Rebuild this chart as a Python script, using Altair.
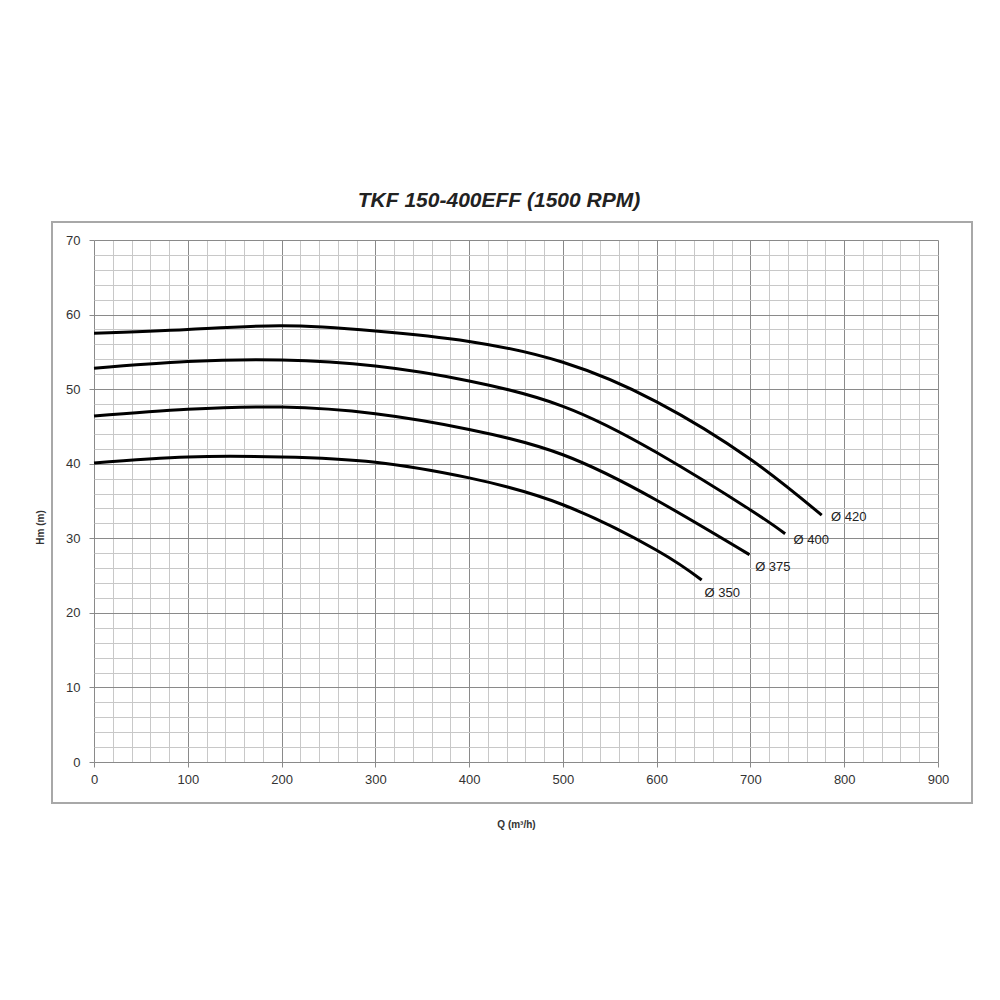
import altair as alt
import pandas as pd

# Flow Q (m3/h) and head H (m)
q_420 = [0, 100, 200, 300, 400, 500, 600, 700, 776]
h_420 = [57.5, 58.0, 58.5, 57.8, 56.4, 53.6, 48.3, 40.6, 33.1]

q_400 = [0, 100, 200, 300, 400, 500, 600, 700, 737]
h_400 = [52.8, 53.7, 53.9, 53.1, 51.1, 47.7, 41.5, 33.8, 30.6]

q_375 = [0, 100, 200, 300, 400, 500, 600, 699]
h_375 = [46.4, 47.3, 47.6, 46.7, 44.6, 41.2, 35.1, 27.8]

q_350 = [0, 100, 200, 300, 400, 500, 600, 648]
h_350 = [40.1, 40.9, 40.9, 40.2, 38.1, 34.5, 28.4, 24.4]

curve_names = ["Ø 420", "Ø 400", "Ø 375", "Ø 350"]
label_q = [786, 746, 705, 651]
label_h = [32.8, 29.8, 26.2, 22.6]

x_ticks = list(range(0, 901, 20))
y_ticks = list(range(0, 71, 2))

rows = []
for name, qs, hs in zip(curve_names, [q_420, q_400, q_375, q_350],
                        [h_420, h_400, h_375, h_350]):
    for q, h in zip(qs, hs):
        rows.append({"curve": name, "Q": q, "H": h})
df = pd.DataFrame(rows)
labels_df = pd.DataFrame({"curve": curve_names, "Q": label_q, "H": label_h})

FONT = "Liberation Sans"
MAJOR = "#8a8a8a"
MINOR = "#c8c8c8"

x_axis = alt.Axis(
    values=x_ticks,
    tickCount=200,
    format="d",
    labelExpr="datum.value % 100 === 0 ? datum.label : ''",
    labelOverlap=False,
    grid=True,
    gridColor=alt.condition("datum.value % 100 === 0", alt.value(MAJOR), alt.value(MINOR)),
    gridWidth=1,
    tickColor=alt.condition("datum.value % 100 === 0", alt.value(MAJOR), alt.value("transparent")),
    tickSize=5,
    domain=False,
    labelFont=FONT,
    labelFontSize=13,
    labelColor="#333333",
    labelPadding=6,
    labelFlush=False,
    title="Q (m³/h)",
    titleFont=FONT,
    titleFontSize=10,
    titleFontWeight="bold",
    titleColor="#333333",
    titleY=62,
    titleBaseline="middle",
)

y_axis = alt.Axis(
    values=y_ticks,
    tickCount=200,
    format="d",
    labelExpr="datum.value % 10 === 0 ? datum.label : ''",
    labelOverlap=False,
    grid=True,
    gridColor=alt.condition("datum.value % 10 === 0", alt.value(MAJOR), alt.value(MINOR)),
    gridWidth=1,
    tickColor=alt.condition("datum.value % 10 === 0", alt.value(MAJOR), alt.value("transparent")),
    tickSize=5,
    domain=False,
    labelFont=FONT,
    labelFontSize=13,
    labelColor="#333333",
    labelPadding=9,
    labelFlush=False,
    title="Hm (m)",
    titleFont=FONT,
    titleFontSize=10,
    titleFontWeight="bold",
    titleColor="#333333",
    titleX=-54,
    titleY=287,
    titleAngle=270,
    titleAlign="center",
    titleBaseline="middle",
)

x_enc = alt.X("Q:Q", scale=alt.Scale(domain=[0, 900], nice=False, zero=False), axis=x_axis)
y_enc = alt.Y("H:Q", scale=alt.Scale(domain=[0, 70], nice=False), axis=y_axis)

frame = alt.Chart(pd.DataFrame({"a": [0]})).mark_rect(
    fillOpacity=0, stroke="#a8a8a8", strokeWidth=2
).encode(
    x=alt.value(-42), x2=alt.value(878), y=alt.value(-18), y2=alt.value(563)
)

lines = alt.Chart(df).mark_line(
    color="black", strokeWidth=3, interpolate="natural"
).encode(x=x_enc, y=y_enc, detail="curve:N")

labels = alt.Chart(labels_df).mark_text(
    align="left", baseline="middle", font=FONT, fontSize=13, color="#222222"
).encode(x="Q:Q", y="H:Q", text="curve:N")

chart = alt.layer(frame, lines, labels).properties(
    width=844,
    height=522,
    title=alt.TitleParams(
        "TKF 150-400EFF (1500 RPM)",
        font=FONT,
        fontSize=21,
        fontStyle="italic",
        fontWeight="bold",
        color="#222222",
        anchor="middle",
        frame="group",
        baseline="bottom",
        offset=29,
        dx=-17,
        dy=40,
    ),
    autosize=alt.AutoSizeParams(type="none"),
    padding={"left": 86, "top": 232, "right": 50, "bottom": 100},
).configure_view(stroke=None)

chart.save("out.html", embed_options={"renderer": "svg", "actions": False})
